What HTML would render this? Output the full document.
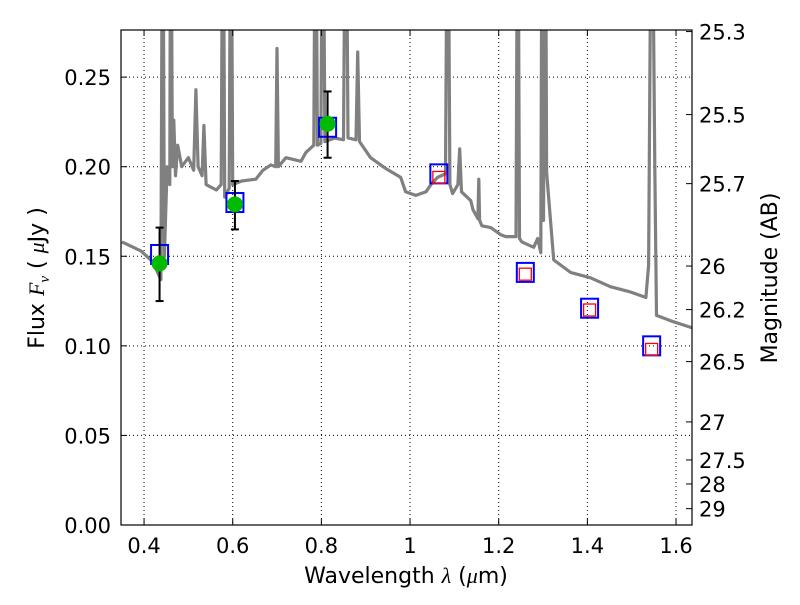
<!DOCTYPE html>
<html><head><meta charset="utf-8"><style>
html,body{margin:0;padding:0;background:#fff}
svg text{font-family:"DejaVu Sans","Liberation Sans",sans-serif;fill:#000}
</style></head><body>
<svg id="chart" width="800" height="600" xmlns="http://www.w3.org/2000/svg">
<rect x="0" y="0" width="800" height="600" fill="#fff"/>
<g id="grid"></g>
<g id="spec"></g>
<g id="marks"></g>
<g id="axes"></g>
<text x="406" y="583" font-size="22" text-anchor="middle">Wavelength  <tspan font-style="italic" font-family="Liberation Serif">λ</tspan> (<tspan font-style="italic" font-family="Liberation Serif">μ</tspan>m)</text>
<text transform="translate(44,278) rotate(-90)" font-size="22" text-anchor="middle">Flux  <tspan font-style="italic" font-family="Liberation Serif">F</tspan><tspan font-style="italic" font-family="Liberation Serif" font-size="15" dy="5">ν</tspan><tspan dy="-5">  (  </tspan><tspan font-style="italic" font-family="Liberation Serif">μ</tspan>Jy )</text>
<text transform="translate(777,278) rotate(-90)" font-size="22" text-anchor="middle">Magnitude (AB)</text>
</svg>
<script>
const specWl=[0.35,0.393,0.415,0.427,0.438,0.442,0.446,0.452,0.458,0.46,0.464,0.467,0.471,0.476,0.485,0.5,0.512,0.517,0.522,0.531,0.535,0.54,0.563,0.574,0.578,0.582,0.592,0.596,0.6,0.62,0.652,0.668,0.686,0.697,0.7,0.703,0.72,0.754,0.765,0.783,0.787,0.791,0.799,0.803,0.808,0.83,0.85,0.855,0.86,0.878,0.882,0.886,0.911,0.945,0.979,0.99,1.013,1.036,1.047,1.062,1.08,1.085,1.09,1.096,1.108,1.112,1.116,1.137,1.142,1.153,1.155,1.157,1.162,1.182,1.205,1.216,1.236,1.239,1.243,1.247,1.252,1.279,1.288,1.295,1.298,1.301,1.305,1.308,1.324,1.362,1.407,1.452,1.498,1.532,1.538,1.545,1.552,1.556,1.588,1.637];
const specFlux=[0.158,0.153,0.148,0.143,0.137,0.4,0.15,0.2,0.19,0.4,0.2,0.226,0.195,0.212,0.2,0.205,0.198,0.243,0.2,0.195,0.223,0.19,0.187,0.19,0.4,0.183,0.188,0.4,0.19,0.192,0.193,0.198,0.201,0.2,0.266,0.2,0.205,0.203,0.208,0.212,0.4,0.212,0.213,0.4,0.214,0.216,0.215,0.4,0.216,0.215,0.264,0.214,0.205,0.199,0.194,0.186,0.184,0.186,0.19,0.194,0.196,0.4,0.19,0.185,0.19,0.21,0.186,0.181,0.176,0.171,0.193,0.17,0.167,0.166,0.162,0.161,0.161,0.161,0.4,0.16,0.158,0.155,0.16,0.152,0.4,0.17,0.4,0.197,0.148,0.141,0.138,0.133,0.13,0.127,0.145,0.4,0.2,0.117,0.114,0.11];
const obsWl=[0.435,0.605,0.814];
const obsFlux=[0.146,0.179,0.224];
const obsErrLo=[0.125,0.165,0.205];
const obsErrHi=[0.166,0.192,0.242];
const modWl=[0.435,0.605,0.814,1.065,1.26,1.405,1.545];
const modFlux=[0.151,0.180,0.222,0.196,0.141,0.121,0.100];
const predWl=[1.065,1.26,1.405,1.545];
const predFlux=[0.194,0.140,0.120,0.098];
const xTicks=[0.4,0.6,0.8,1.0,1.2,1.4,1.6];
const xTickLabels=["0.4","0.6","0.8","1","1.2","1.4","1.6"];
const yTicks=[0,0.05,0.10,0.15,0.20,0.25];
const yTickLabels=["0.00","0.05","0.10","0.15","0.20","0.25"];
const magTicks=[25.3,25.5,25.7,26,26.2,26.5,27,27.5,28,29];
const magTickLabels=["25.3","25.5","25.7","26","26.2","26.5","27","27.5","28","29"];

const L=121,R=692,T=30,B=525,X0=0.348,X1=1.636,Y0=0,Y1=0.2763;
const sx=v=>L+(v-X0)/(X1-X0)*(R-L);
const sy=v=>B-(v-Y0)/(Y1-Y0)*(B-T);
const NS="http://www.w3.org/2000/svg";
function mk(parent,tag,attrs){const e=document.createElementNS(NS,tag);for(const k in attrs)e.setAttribute(k,attrs[k]);parent.appendChild(e);return e;}
const grid=document.getElementById('grid'),spec=document.getElementById('spec'),marks=document.getElementById('marks'),axes=document.getElementById('axes');
const svg=document.getElementById('chart');
const cp=mk(svg,'clipPath',{id:'pc'});mk(cp,'rect',{x:L,y:T,width:R-L,height:B-T});

xTicks.forEach((t,i)=>{
  const x=sx(t);
  const g=mk(grid,'line',{x1:x,x2:x,y1:T,y2:B,stroke:'#000','stroke-width':1,'stroke-dasharray':'1,3'});
  
  
  mk(axes,'line',{x1:x,x2:x,y1:B,y2:B-6,stroke:'#000'});
  mk(axes,'line',{x1:x,x2:x,y1:T,y2:T+6,stroke:'#000'});
  const tx=mk(axes,'text',{x:x,y:B+28,'font-size':21,'text-anchor':'middle'});
  tx.textContent=xTickLabels[i];
  
  
});
yTicks.forEach((t,i)=>{
  const y=sy(t);
  const g=mk(grid,'line',{x1:L,x2:R,y1:y,y2:y,stroke:'#000','stroke-width':1,'stroke-dasharray':'1,3'});
  
  
  mk(axes,'line',{x1:L,x2:L+6,y1:y,y2:y,stroke:'#000'});
  const tx=mk(axes,'text',{x:L-10,y:y+8,'font-size':21,'text-anchor':'end'});
  tx.textContent=yTickLabels[i];
  
  
});
magTicks.forEach((m,i)=>{
  const f=Math.pow(10,(23.9-m)/2.5);const y=sy(f);
  mk(axes,'line',{x1:R,x2:R-6,y1:y,y2:y,stroke:'#000'});
  const tx=mk(axes,'text',{x:R+7,y:y+8,'font-size':21,'text-anchor':'start'});
  tx.textContent=magTickLabels[i];
  
  
});
const pts=specWl.map((w,i)=>sx(w).toFixed(1)+','+sy(specFlux[i]).toFixed(1)).join(' ');
const pl=mk(spec,'polyline',{points:pts,fill:'none',stroke:'#808080','stroke-width':3.2,'stroke-linejoin':'round','clip-path':'url(#pc)'});


modWl.forEach((w,i)=>{
  const r=mk(marks,'rect',{x:sx(w)-8.5,y:sy(modFlux[i])-9.5,width:17,height:19,fill:'none',stroke:'#0000ff','stroke-width':2});
  
  
});
predWl.forEach((w,i)=>{
  const r=mk(marks,'rect',{x:sx(w)-6,y:sy(predFlux[i])-6,width:12,height:12,fill:'none',stroke:'#ff0000','stroke-width':1.3});
  
  
});
obsWl.forEach((w,i)=>{
  const x=sx(w);
  const e=mk(marks,'line',{x1:x,x2:x,y1:sy(obsErrLo[i]),y2:sy(obsErrHi[i]),stroke:'#000','stroke-width':2});
  
  
  mk(marks,'line',{x1:x-4,x2:x+4,y1:sy(obsErrLo[i]),y2:sy(obsErrLo[i]),stroke:'#000','stroke-width':2});
  mk(marks,'line',{x1:x-4,x2:x+4,y1:sy(obsErrHi[i]),y2:sy(obsErrHi[i]),stroke:'#000','stroke-width':2});
  const c=mk(marks,'circle',{cx:x,cy:sy(obsFlux[i]),r:8,fill:'#00bb00'});
  
  
});
const fr=mk(axes,'rect',{x:L,y:T,width:R-L,height:B-T,fill:'none',stroke:'#000','stroke-width':1.2});


</script>
</body></html>
